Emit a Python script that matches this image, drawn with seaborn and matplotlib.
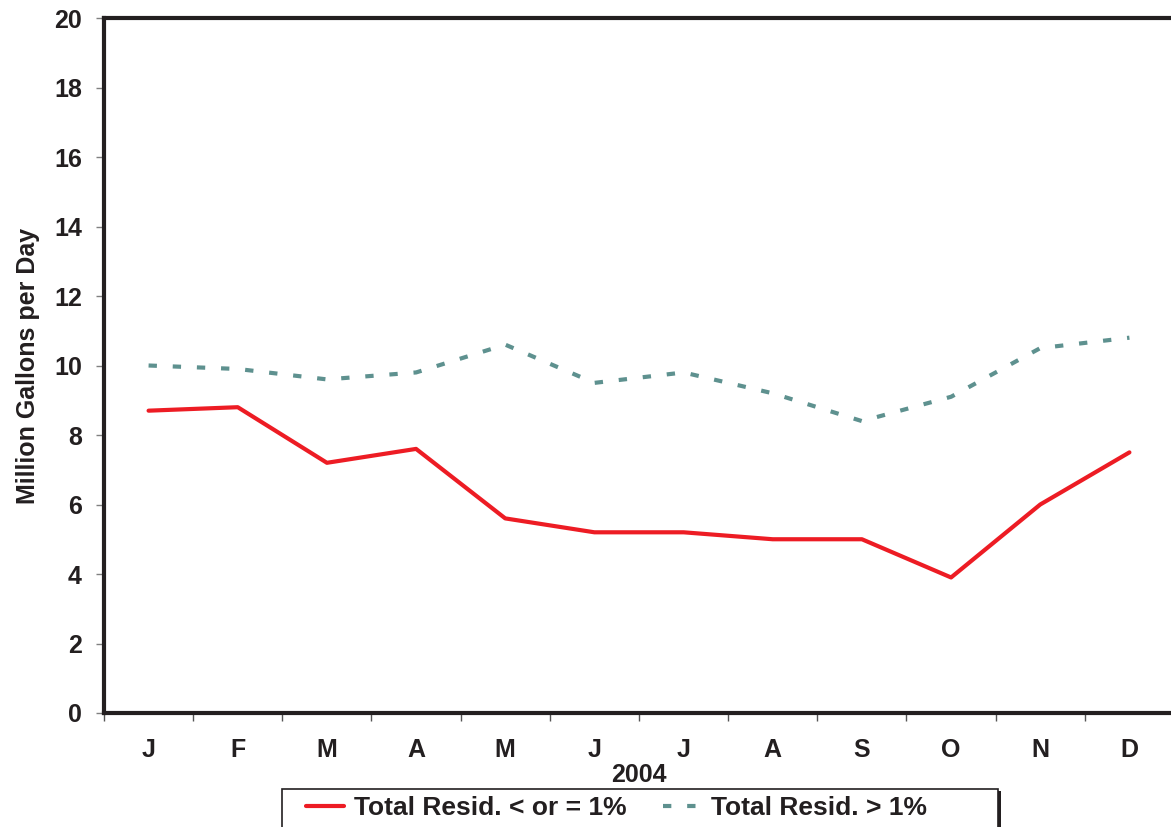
import matplotlib
matplotlib.use("Agg")
import matplotlib.pyplot as plt
from matplotlib.patches import Rectangle
import seaborn as sns
import pandas as pd
import numpy as np

months = ["J", "F", "M", "A", "M", "J", "J", "A", "S", "O", "N", "D"]
low_resid = [8.7, 8.8, 7.2, 7.6, 5.6, 5.2, 5.2, 5.0, 5.0, 3.9, 6.0, 7.5]
high_resid = [10.0, 9.9, 9.6, 9.8, 10.6, 9.5, 9.8, 9.2, 8.4, 9.1, 10.5, 10.8]
series_names = ["Total Resid. < or = 1%", "Total Resid. > 1%"]
yticks = list(range(0, 21, 2))

sns.set_style("white")
plt.rcParams['font.family'] = ['Liberation Sans', 'DejaVu Sans']
plt.rcParams['font.weight'] = 'bold'

df = pd.DataFrame({
    "pos": list(range(len(months))) * 2,
    "value": low_resid + high_resid,
    "series": [series_names[0]] * len(months) + [series_names[1]] * len(months),
})

fig = plt.figure(figsize=(11.71, 8.27), dpi=100)
W, H = 1171, 827
ax = fig.add_axes([104 / W, 1 - 713 / H, 1070 / W, (713 - 18) / H])

red = "#ed1c24"
teal = "#5e918f"
dark = "#231f20"
sns.lineplot(data=df[df.series == series_names[0]], x="pos", y="value", ax=ax,
             color=red, linewidth=3, label=series_names[0], legend=False)
sns.lineplot(data=df[df.series == series_names[1]], x="pos", y="value", ax=ax,
             color=teal, linewidth=3, label=series_names[1], legend=False)
ax.lines[1].set_dashes([2.0, 3.8])
ax.lines[1].set_dash_capstyle("butt")

ax.set_xlim(-0.5, len(months) - 0.5)
ax.set_ylim(0, 20)
ax.set_yticks(yticks)
ax.set_yticklabels([str(v) for v in yticks], fontsize=18, fontweight='bold', color=dark)
ax.set_xticks(range(len(months)))
ax.set_xticklabels(months, fontsize=18, fontweight='bold', color=dark)
ax.set_xticks(np.arange(-0.5, len(months), 1.0), minor=True)
ax.tick_params(axis='x', which='major', length=0, pad=18)
ax.tick_params(axis='x', which='minor', length=6, width=1, color="#555555", direction='out', bottom=True)
ax.tick_params(axis='y', which='major', length=6, width=1, color="#808080", direction='out', left=True, pad=10)

ax.set_xlabel("2004", fontsize=18, fontweight='bold', color=dark, labelpad=1)
ax.set_ylabel("Million Gallons per Day", fontsize=18, fontweight='bold', color=dark, labelpad=10)

for side in ["left", "top", "bottom"]:
    ax.spines[side].set_visible(True)
    ax.spines[side].set_color(dark)
    ax.spines[side].set_linewidth(3)
ax.spines["right"].set_visible(False)
ax.grid(False)

handles = ax.lines[:2]
leg = fig.legend(handles, series_names, loc='center left', bbox_to_anchor=(306 / W, 1 - 808 / H),
                 ncol=2, fontsize=19, frameon=False, borderpad=0, borderaxespad=0,
                 handlelength=1.45, columnspacing=1.4, handletextpad=0.35)
for t in leg.get_texts():
    t.set_fontweight('bold')
    t.set_color(dark)

frame = Rectangle((282 / W, -0.01), (998 - 282) / W, (827 - 789) / H + 0.01,
                  transform=fig.transFigure, fill=False, edgecolor=dark, linewidth=1.2)
fig.patches.append(frame)
shadow = Rectangle((998 / W, -0.01), 2.5 / W, (827 - 791) / H + 0.01,
                   transform=fig.transFigure, fill=True, facecolor=dark, edgecolor='none')
fig.patches.append(shadow)

fig.savefig("out.png", dpi=100)
